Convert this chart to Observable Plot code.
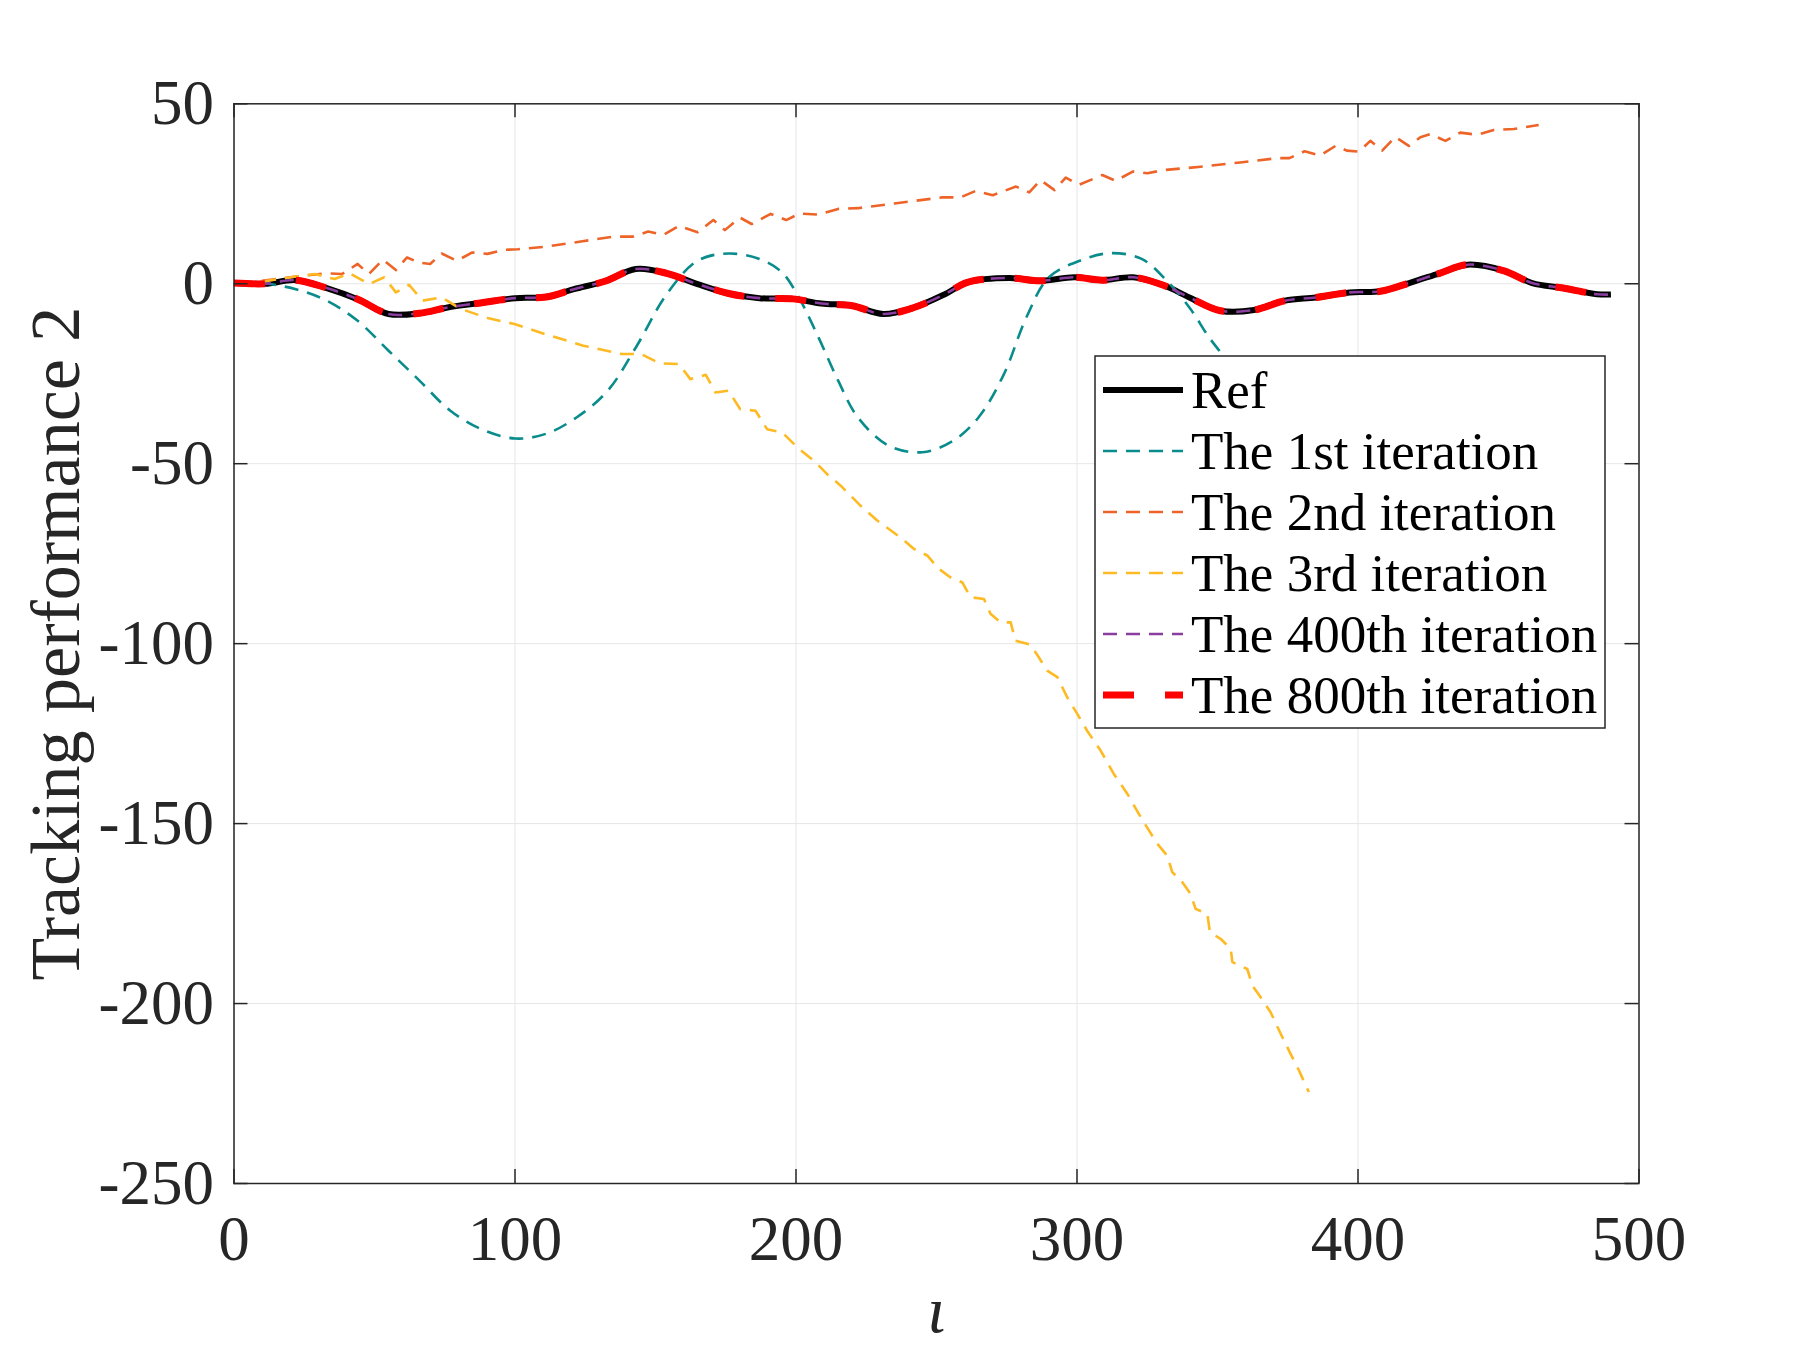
<!DOCTYPE html>
<html><head><meta charset="utf-8">
<script src="https://cdn.jsdelivr.net/npm/d3@7"></script>
<script src="https://cdn.jsdelivr.net/npm/@observablehq/plot@0.6"></script>
<style>
html,body{margin:0;padding:0;background:#fff;}
#wrap{position:relative;width:1804px;height:1349px;overflow:hidden;}
#wrap svg.legend{position:absolute;}
</style></head><body><div id="wrap"></div>
<script>
// ---------- data ----------
const xTicks = [0, 100, 200, 300, 400, 500];
const yTicks = [50, 0, -50, -100, -150, -200, -250];
const xLabel = "ι";
const yLabel = "Tracking performance 2";
const seriesNames = ["Ref", "The 1st iteration", "The 2nd iteration", "The 3rd iteration", "The 400th iteration", "The 800th iteration"];

// [iteration index l, value]
const ref = [[0,0.2],[11,0],[22,1.0],[33,-1.2],[44,-4.3],[55,-8.4],[66,-8.2],[76,-6.6],[87,-5.4],[100,-4.0],
  [111,-3.7],[121,-1.5],[132,0.7],[143,4.1],[154,2.9],[165,-0.1],[176,-2.7],[187,-4.0],[199,-4.2],[209,-5.5],
  [220,-6.1],[231,-8.4],[242,-6.6],[253,-2.9],[261,0.4],[276,1.6],[287,0.8],[299,1.8],[309,1.0],[320,1.8],
  [331,-0.5],[340,-3.8],[351,-7.5],[363,-7.3],[374,-4.7],[385,-3.8],[397,-2.4],[408,-2.1],[419,0.4],[429,2.9],
  [439,5.3],[452,3.6],[462,0.2],[473,-1.2],[485,-2.9],[490,-3.0]];

const iter1 = [[10,0.3],[22,-1.5],[33,-4.7],[44,-10.3],[55,-18.6],[66,-26.9],[77,-35.3],[88,-40.4],[100,-43.0],
  [111,-41.7],[122,-37.1],[133,-29.7],[143,-17.7],[154,-2.9],[165,6.4],[176,8.4],[187,6.9],[195,3.2],[201,-3.8],
  [208,-14.9],[215,-26.9],[222,-37.1],[233,-45.0],[245,-46.8],[256,-43.6],[265,-37.1],[274,-25.1],[282,-9.3],
  [290,1.8],[301,6.4],[312,8.5],[323,6.9],[332,0.8],[340,-6.6],[347,-14.9],[353,-21.0],[360,-29.0],[368,-37.0]];

const iter2 = [[10,0.8],[22,2.0],[33,2.9],[38.5,2.7],[44,5.5],[48,2.7],[53,6.7],[57.6,3.8],[61.6,7.3],[65.7,5.9],
  [69.8,5.5],[73.9,8.4],[79.3,6.4],[84.8,8.7],[90.2,8.3],[95.7,9.4],[101,9.6],[111,10.3],[124,11.8],[135,13.1],
  [142,13.1],[147.4,14.5],[152.9,13.6],[158.3,16.1],[165,14.3],[170.6,17.7],[174.7,14.9],[180,18.4],[184.2,16.6],
  [191,19.4],[196.5,17.7],[201.3,19.5],[208,19.2],[215,20.8],[222,21.0],[235,22.3],[252,24.0],[258.5,24.0],
  [264,25.8],[270,24.6],[278.3,27.0],[283,25.4],[287,28.8],[292,26.0],[296,29.5],[300.7,27.5],[309,30.2],
  [313.7,28.6],[320,31.2],[325,30.7],[331,31.6],[344,32.5],[358,33.7],[371.5,34.9],[375.6,34.9],[381,36.8],
  [386.5,35.6],[392,38.3],[396,37.0],[400.3,36.7],[404.4,39.7],[408.6,37.0],[413.3,40.8],[418.1,38.3],
  [422.2,40.7],[425.8,41.6],[431.1,39.7],[436.4,42.0],[442.4,41.4],[448.3,42.7],[455.4,43.0],[464.3,44.1]];

const iter3 = [[10,0.6],[22.1,2.0],[28.9,2.7],[35.8,1.3],[41.2,2.9],[48,-0.1],[53.5,1.8],[57.6,-2.4],[62.3,-0.3],
  [67.1,-4.7],[73.9,-3.8],[80.7,-7.0],[90.2,-9.5],[99.8,-11.2],[110.7,-14.0],[124.3,-17.2],[137.9,-19.5],
  [144.7,-19.5],[151.5,-22.1],[158.3,-22.3],[162.4,-26.5],[167.9,-25.3],[171.3,-30.2],[176,-29.7],[180.1,-34.8],
  [185.6,-35.3],[189.7,-40.4],[195.1,-41.3],[200.5,-45.5],[206.4,-49.2],[211.1,-52.9],[215.9,-56.1],[223,-61.7],
  [228.9,-65.8],[237.2,-70.5],[242,-73.7],[246.7,-75.5],[250.8,-79.2],[255,-81.6],[259.2,-83.0],[262.1,-87.1],
  [266.9,-87.6],[269.2,-91.7],[272.8,-94.1],[276.4,-94.1],[278.1,-99.2],[283.5,-100.3],[286.4,-103.8],
  [289.4,-107.5],[293,-109.3],[296.5,-114.9],[300.1,-119.5],[303.6,-124.2],[308.4,-129.7],[313.1,-136.2],
  [317.9,-141.7],[322,-147.3],[325.6,-151.9],[328.6,-155.6],[332.1,-158.9],[333.9,-163.5],[337.5,-166.3],
  [340.4,-169.5],[342.2,-173.7],[346.4,-175.1],[347.3,-180.2],[351.1,-182.0],[354.7,-184.8],[355.3,-188.5],
  [360.6,-190.4],[362.4,-195.0],[365.3,-198.2],[368.9,-202.4],[372.5,-208.4],[376,-214.0],[379,-218.6],[382.5,-224.6]];

// the 400th and 800th iterations coincide with the reference in the picture
const iter400 = ref;
const iter800 = ref;

// ---------- styles ----------
const styles = [
  {stroke: "#000000", strokeWidth: 6,   dash: null,    curve: "catmull-rom"},
  {stroke: "#0A8C8C", strokeWidth: 2.6, dash: "14,9",  curve: "catmull-rom"},
  {stroke: "#EE6428", strokeWidth: 2.6, dash: "14,9",  curve: "linear"},
  {stroke: "#FDBA22", strokeWidth: 2.6, dash: "14,9",  curve: "linear"},
  {stroke: "#8A3FA0", strokeWidth: 2.6, dash: "14,9",  curve: "catmull-rom"},
  {stroke: "#FF0000", strokeWidth: 7,   dash: "31,31", curve: "catmull-rom"}
];
const seriesData = [ref, iter1, iter2, iter3, iter400, iter800];

const W = 1804, H = 1349;
const mL = 233.5, mR = 165.5, mT = 103.3, mB = 166;
const innerW = W - mL - mR, innerH = H - mT - mB;
const tickLen = 14;
const axisColor = "#262626";
const fmt = d => String(d);

const lineMarks = seriesData.map((data, i) => Plot.line(data, {
  x: d => d[0], y: d => d[1],
  stroke: styles[i].stroke, strokeWidth: styles[i].strokeWidth,
  strokeDasharray: styles[i].dash || undefined,
  strokeLinecap: "butt", strokeLinejoin: "round",
  curve: styles[i].curve
}));

const chart = Plot.plot({
  width: W, height: H,
  marginLeft: mL, marginRight: mR, marginTop: mT, marginBottom: mB,
  x: {domain: [0, 500]},
  y: {domain: [-250, 50]},
  style: {fontFamily: "'Liberation Serif', 'Times New Roman', serif", background: "white", color: axisColor, overflow: "visible"},
  marks: [
    Plot.gridX(xTicks, {stroke: "#e6e6e6", strokeOpacity: 1, strokeWidth: 1}),
    Plot.gridY(yTicks, {stroke: "#e6e6e6", strokeOpacity: 1, strokeWidth: 1}),
    ...lineMarks,
    // inward ticks on all four sides
    Plot.ruleX(xTicks, {x: d => d, insetTop: innerH - tickLen, stroke: axisColor, strokeWidth: 1.5}),
    Plot.ruleX(xTicks, {x: d => d, insetBottom: innerH - tickLen, stroke: axisColor, strokeWidth: 1.5}),
    Plot.ruleY(yTicks, {y: d => d, insetRight: innerW - tickLen, stroke: axisColor, strokeWidth: 1.5}),
    Plot.ruleY(yTicks, {y: d => d, insetLeft: innerW - tickLen, stroke: axisColor, strokeWidth: 1.5}),
    Plot.frame({stroke: axisColor, strokeWidth: 1.5}),
    Plot.axisX({ticks: xTicks, tickSize: 0, tickPadding: 32, fontSize: 63, tickFormat: fmt, label: null, fill: axisColor}),
    Plot.axisY({ticks: yTicks, tickSize: 0, tickPadding: 20, fontSize: 63, tickFormat: fmt, label: null, fill: axisColor}),
    Plot.text([xLabel], {text: d => d, frameAnchor: "bottom", dy: 148, lineAnchor: "bottom", fontSize: 66, fontStyle: "italic", fill: axisColor}),
    Plot.text([yLabel], {text: d => d, frameAnchor: "left", dx: -155, rotate: -90, textAnchor: "middle", lineAnchor: "bottom", fontSize: 70, fill: axisColor})
  ]
});
document.getElementById("wrap").appendChild(chart);

// ---------- legend (inside the axes) ----------
const lgX = 1095, lgY = 356, lgW = 510, lgH = 372;
const rowTop = 34, rowGap = 61;
const legend = d3.select("#wrap").append("svg")
  .attr("class", "legend")
  .attr("width", lgW + 2).attr("height", lgH + 2)
  .style("left", (lgX - 1) + "px").style("top", (lgY - 1) + "px");
legend.append("rect").attr("x", 1).attr("y", 1).attr("width", lgW).attr("height", lgH)
  .attr("fill", "#fff").attr("stroke", axisColor).attr("stroke-width", 1.5);
seriesNames.forEach((name, i) => {
  const cy = 1 + rowTop + i * rowGap;
  legend.append("line").attr("x1", 9).attr("x2", 89).attr("y1", cy).attr("y2", cy)
    .attr("stroke", styles[i].stroke).attr("stroke-width", styles[i].strokeWidth)
    .attr("stroke-dasharray", styles[i].dash);
  legend.append("text").attr("x", 97).attr("y", cy + 18)
    .attr("font-family", "'Liberation Serif', 'Times New Roman', serif").attr("font-size", 53)
    .attr("fill", "#000").text(name);
});
</script>
</body></html>
